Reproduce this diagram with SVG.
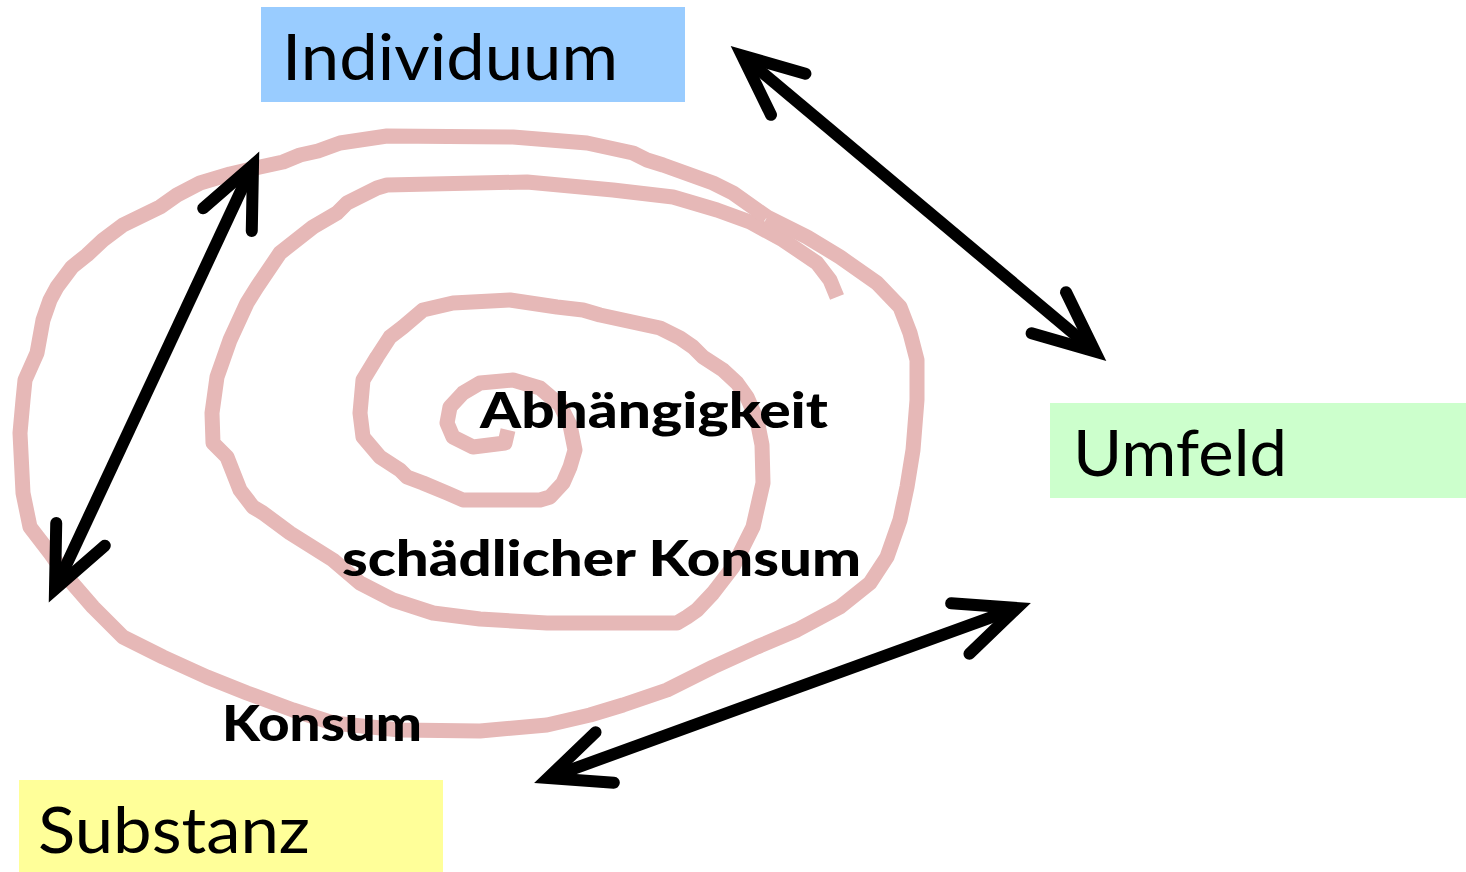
<svg xmlns="http://www.w3.org/2000/svg" width="1466" height="872" viewBox="0 0 1466 872">
<style>
.spiral{fill:none;stroke:#e6b8b7;stroke-width:15;stroke-linejoin:round;stroke-linecap:butt}
.conn{fill:none;stroke:#000;stroke-width:12}
.head{fill:none;stroke:#000;stroke-width:12;stroke-linecap:round;stroke-linejoin:miter;stroke-miterlimit:10}
.box-text{font-family:Lato,"Liberation Sans",sans-serif;font-weight:400;font-size:63px;fill:#000}
.lbl{font-family:Lato,"Liberation Sans",sans-serif;font-weight:900;font-size:50px;fill:#000}
</style>
<defs>
<marker id="ah" markerUnits="userSpaceOnUse" orient="auto-start-reverse" refX="0" refY="0" markerWidth="10" markerHeight="10" overflow="visible">
<path class="head" d="M-60.3,-26.8 L0,0 L-60.3,26.8"/>
</marker>
</defs>
<rect width="1466" height="872" fill="#fff"/>
<g id="spiral">
<path class="spiral" d="M508,430 L505,443 L473,447 L453,437 L447,423 L450,407 L463,393 L480,383 L513,380 L540,388 L560,405 L570,425 L575,450 L570,467 L563,483 L550,497 L540,500 L463,500 L447,493 L423,483 L407,477 L400,470 L380,457 L363,437 L360,413 L363,380 L377,357 L390,337 L403,327 L423,310 L453,303 L510,300 L557,307 L583,310 L600,315 L660,328 L680,338 L693,347 L703,357 L723,370 L737,383 L747,397 L757,420 L762,445 L763,483 L753,527 L733,567 L713,593 L697,610 L687,617 L677,623 L547,623 L480,619 L433,613 L393,600 L360,583 L333,560 L290,533 L263,513 L253,507 L240,490 L227,457 L213,443 L212,413 L217,377 L230,340 L247,303 L257,287 L280,253 L313,227 L337,213 L347,203 L377,188 L387,185 L527,182 L613,190 L673,197 L690,202 L717,210 L750,222 L783,240 L817,263 L830,280 L837,297"/>
<path class="spiral" d="M767,217 L807,237 L840,257 L877,283 L900,307 L910,333 L917,360 L917,400 L913,450 L907,487 L900,520 L887,557 L870,583 L840,607 L797,630 L757,647 L713,667 L667,690 L623,705 L590,715 L547,725 L480,731 L400,730 L333,723 L293,710 L247,693 L207,677 L163,657 L123,637 L93,607 L67,577 L50,553 L30,527 L23,493 L20,433 L23,400 L25,380 L37,353 L43,320 L50,300 L57,287 L72,267 L87,255 L103,240 L123,225 L160,207 L177,195 L200,183 L230,174 L260,167 L283,162 L300,155 L318,151 L340,143 L387,136 L513,137 L587,143 L633,153 L647,160 L663,165 L713,183 L733,193 L767,217"/>
</g>
<g id="individuum">
<rect x="261" y="7" width="424" height="95" fill="#99ccff"/>
<text class="box-text" x="282" y="80" textLength="336" lengthAdjust="spacingAndGlyphs">Individuum</text>
</g>
<g id="umfeld">
<rect x="1050" y="403" width="416" height="95" fill="#ccffcc"/>
<text class="box-text" x="1073" y="476" textLength="214" lengthAdjust="spacingAndGlyphs">Umfeld</text>
</g>
<g id="substanz">
<rect x="19" y="780" width="424" height="92" fill="#ffff99"/>
<text class="box-text" x="38" y="853" textLength="272" lengthAdjust="spacingAndGlyphs">Substanz</text>
</g>
<g id="labels">
<text class="lbl" x="480" y="428" textLength="348" lengthAdjust="spacingAndGlyphs">Abhängigkeit</text>
<text class="lbl" x="342" y="576" textLength="519" lengthAdjust="spacingAndGlyphs">schädlicher Konsum</text>
<text class="lbl" x="222" y="741" textLength="200" lengthAdjust="spacingAndGlyphs">Konsum</text>
</g>
<g id="connectors">
<line class="conn" x1="253" y1="165" x2="55" y2="589" marker-start="url(#ah)" marker-end="url(#ah)"/>
<line class="conn" x1="742" y1="55.5" x2="1095" y2="351.5" marker-start="url(#ah)" marker-end="url(#ah)"/>
<line class="conn" x1="1017" y1="608" x2="548" y2="778" marker-start="url(#ah)" marker-end="url(#ah)"/>
</g>
</svg>
